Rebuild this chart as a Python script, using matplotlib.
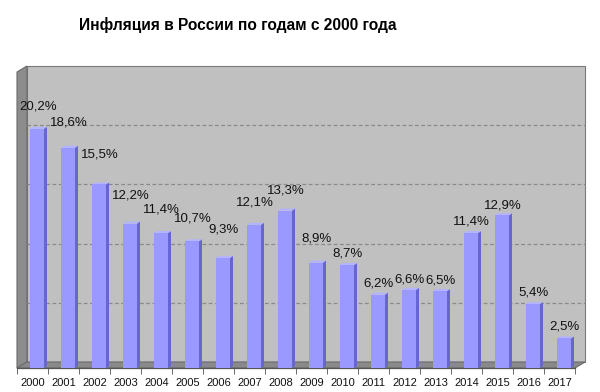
import matplotlib
matplotlib.use("Agg")
from matplotlib import pyplot as plt
from matplotlib.patches import Polygon

plt.rcParams['font.family'] = ['Liberation Sans', 'DejaVu Sans']

years = ['2000', '2001', '2002', '2003', '2004', '2005', '2006', '2007', '2008',
         '2009', '2010', '2011', '2012', '2013', '2014', '2015', '2016', '2017']
inflation = [20.2, 18.6, 15.5, 12.2, 11.4, 10.7, 9.3, 12.1, 13.3,
             8.9, 8.7, 6.2, 6.6, 6.5, 11.4, 12.9, 5.4, 2.5]
# gap between bar top and label centre, in pixels (Excel placement)
label_gap = [22, 25, 30, 28, 24, 23, 28, 22, 20, 24, 11, 11, 10, 11, 12, 10, 12, 12]

fig = plt.figure(figsize=(6, 3.92), dpi=100)
ax = fig.add_axes([17/600, 1-368/392, 558/600, 296/392])
n = len(years)
x0, x1 = -0.5, n - 0.5
ymax = 25
ax.set_xlim(x0, x1)
ax.set_ylim(0, ymax)

# pixel -> data sizes
px = (x1 - x0) / 558
py = ymax / 296
dx, dy = 10*px, 6*py

wall = '#c0c0c0'
side = '#8c8c8c'
ax.add_patch(Polygon([(x0+dx, dy), (x1+dx, dy), (x1+dx, ymax+dy), (x0+dx, ymax+dy)],
                     closed=True, fc=wall, ec='#7a7a7a', lw=0.8, clip_on=False, zorder=0))
ax.add_patch(Polygon([(x0, 0), (x0+dx, dy), (x0+dx, ymax+dy), (x0, ymax)],
                     closed=True, fc=side, ec='#6a6a6a', lw=0.8, clip_on=False, zorder=1))
ax.add_patch(Polygon([(x0, 0), (x1, 0), (x1+dx, dy), (x0+dx, dy)],
                     closed=True, fc='#8a8a8a', ec='#6a6a6a', lw=0.8, clip_on=False, zorder=1))

for g in range(5, ymax, 5):
    ax.plot([x0+dx, x1+dx], [g+dy, g+dy], ls=(0, (3, 2)), color='#8a8a8a', lw=0.9,
            clip_on=False, zorder=1)

# bars
w = 14*px
ox = 4.5*px
bdx, bdy = 3*px, 2*py
front = '#9999ff'
dark = '#6666cc'
light = '#b3b3ff'
for i, v in enumerate(inflation):
    xl = i + ox - w/2
    xr = i + ox + w/2
    ax.add_patch(Polygon([(xr, 0), (xr+bdx, bdy), (xr+bdx, v+bdy), (xr, v)],
                         closed=True, fc=dark, ec='none', zorder=3, clip_on=False))
    ax.add_patch(Polygon([(xl, v), (xr, v), (xr+bdx, v+bdy), (xl+bdx, v+bdy)],
                         closed=True, fc=light, ec='none', zorder=3, clip_on=False))
    ax.bar(i + ox, v, width=w, color=front, zorder=4)
    ax.annotate(f"{v:.1f}%".replace('.', ','), xy=(i + ox, v),
                xytext=(0.5, label_gap[i]*0.72), textcoords='offset points',
                ha='center', va='center', fontsize=9.5, color='#111111', zorder=5)

ax.set_xticks(range(n))
ax.set_xticklabels(years, fontsize=8, color='#111111')
ax.set_xticks([k - 0.5 for k in range(n + 1)], minor=True)
ax.tick_params(axis='x', which='major', length=0, pad=7)
ax.tick_params(axis='x', which='minor', length=4, color='#555555', direction='out')
ax.set_yticks([])
for s in ['top', 'right', 'left']:
    ax.spines[s].set_visible(False)
ax.spines['bottom'].set_color('#555555')
ax.spines['bottom'].set_linewidth(0.9)
ax.patch.set_visible(False)

fig.text(238/600, 1-25/392, 'Инфляция в России по годам с 2000 года',
         ha='center', va='center', fontsize=11.2, fontweight='bold')

fig.savefig('out.png', dpi=100)
